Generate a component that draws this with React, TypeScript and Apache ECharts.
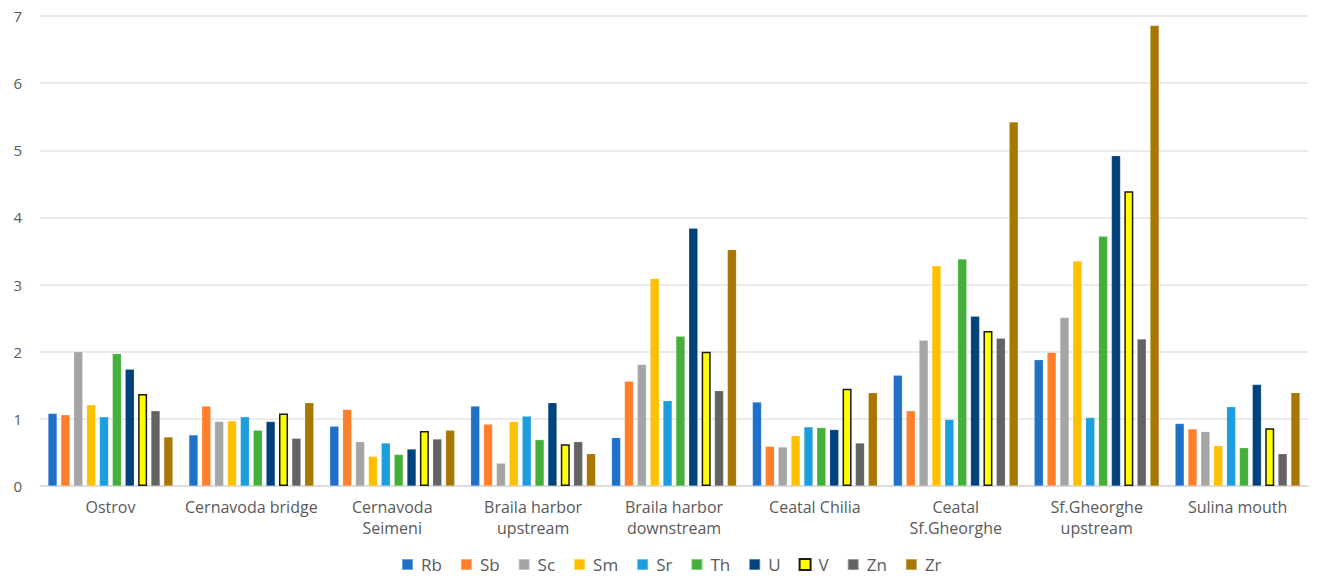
import React, { useEffect, useRef } from "react";
import * as echarts from "echarts";

// Sampling sites along the lower Danube
const sites = [
  "Ostrov",
  "Cernavoda bridge",
  "Cernavoda\nSeimeni",
  "Braila harbor\nupstream",
  "Braila harbor\ndownstream",
  "Ceatal Chilia",
  "Ceatal\nSf.Gheorghe",
  "Sf.Gheorghe\nupstream",
  "Sulina mouth",
];

// Element values per site
const Rb = [1.08, 0.76, 0.89, 1.19, 0.72, 1.25, 1.65, 1.88, 0.93];
const Sb = [1.06, 1.19, 1.14, 0.92, 1.56, 0.59, 1.12, 1.99, 0.85];
const Sc = [2.0, 0.96, 0.66, 0.34, 1.81, 0.58, 2.17, 2.51, 0.81];
const Sm = [1.21, 0.97, 0.44, 0.96, 3.09, 0.75, 3.28, 3.35, 0.6];
const Sr = [1.03, 1.03, 0.64, 1.04, 1.27, 0.88, 0.99, 1.02, 1.18];
const Th = [1.97, 0.83, 0.47, 0.69, 2.23, 0.87, 3.38, 3.72, 0.57];
const U = [1.74, 0.96, 0.55, 1.24, 3.84, 0.84, 2.53, 4.92, 1.51];
const V = [1.37, 1.08, 0.82, 0.62, 2.0, 1.45, 2.31, 4.39, 0.86];
const Zn = [1.12, 0.71, 0.7, 0.66, 1.42, 0.64, 2.2, 2.19, 0.48];
const Zr = [0.73, 1.24, 0.83, 0.48, 3.52, 1.39, 5.42, 6.86, 1.39];

const yTicks = [0, 1, 2, 3, 4, 5, 6, 7];

const elements: { name: string; data: number[]; color: string; border?: string }[] = [
  { name: "Rb", data: Rb, color: "#1F70C8" },
  { name: "Sb", data: Sb, color: "#FF7F2A" },
  { name: "Sc", data: Sc, color: "#A5A5A5" },
  { name: "Sm", data: Sm, color: "#FFC000" },
  { name: "Sr", data: Sr, color: "#1B9DDE" },
  { name: "Th", data: Th, color: "#44B03A" },
  { name: "U", data: U, color: "#00427C" },
  { name: "V", data: V, color: "#FFFF00", border: "#1a1a1a" },
  { name: "Zn", data: Zn, color: "#636363" },
  { name: "Zr", data: Zr, color: "#A87700" },
];

const FONT = "'Open Sans', 'Noto Sans', sans-serif";

export default function App() {
  const ref = useRef<HTMLDivElement>(null);

  useEffect(() => {
    if (!ref.current) return;
    const chart = echarts.init(ref.current, undefined, { renderer: "svg" });
    chart.setOption({
      animation: false,
      backgroundColor: "#ffffff",
      textStyle: { fontFamily: FONT },
      grid: { left: 40, right: 12, top: 16, bottom: 97, containLabel: false },
      legend: {
        top: 551,
        left: 396,
        icon: "rect",
        itemWidth: 11,
        itemHeight: 11,
        itemGap: 18,
        textStyle: { fontSize: 17, color: "#595959", fontFamily: FONT, padding: [0, 0, 0, 3] },
        data: elements.map((e) => e.name),
      },
      xAxis: {
        type: "category",
        data: sites,
        axisTick: { show: false },
        axisLine: { lineStyle: { color: "#d9d9d9", width: 1.5 } },
        axisLabel: {
          fontSize: 16,
          color: "#595959",
          lineHeight: 21,
          margin: 10,
          interval: 0,
          fontFamily: FONT,
        },
      },
      yAxis: {
        type: "value",
        min: yTicks[0],
        max: yTicks[yTicks.length - 1],
        interval: 1,
        axisLine: { show: false },
        axisTick: { show: false },
        splitLine: { lineStyle: { color: "#e4e4e4", width: 1.5 } },
        axisLabel: { fontSize: 15, color: "#595959", margin: 18, fontFamily: FONT },
      },
      series: elements.map((e) => ({
        name: e.name,
        type: "bar",
        data: e.data,
        barWidth: 9,
        barGap: "43%",
        itemStyle: {
          color: e.color,
          borderColor: e.border ?? "rgba(255,255,255,0.35)",
          borderWidth: e.border ? 1.5 : 0.5,
        },
      })),
    });
    return () => chart.dispose();
  }, []);

  return (
    <div
      ref={ref}
      style={{ position: "fixed", left: 0, top: 0, width: 1320, height: 583 }}
    />
  );
}
